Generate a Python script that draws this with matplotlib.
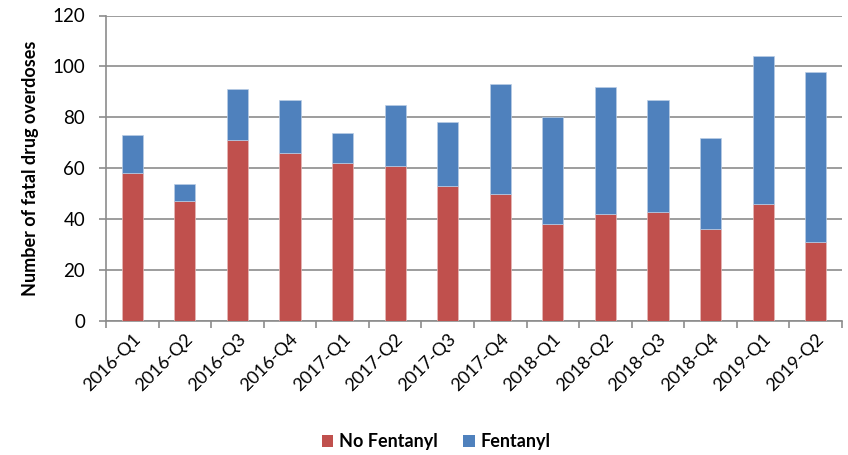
import matplotlib
matplotlib.use("Agg")
import matplotlib.pyplot as plt
import numpy as np
from matplotlib.patches import Patch

plt.rcParams['font.family'] = ['Lato', 'DejaVu Sans']

categories = ["2016-Q1", "2016-Q2", "2016-Q3", "2016-Q4", "2017-Q1", "2017-Q2", "2017-Q3",
              "2017-Q4", "2018-Q1", "2018-Q2", "2018-Q3", "2018-Q4", "2019-Q1", "2019-Q2"]
no_fentanyl = [58, 47, 71, 66, 62, 61, 53, 50, 38, 42, 43, 36, 46, 31]
totals = [73, 54, 91, 87, 74, 85, 78, 93, 80, 92, 87, 72, 104, 98]
fentanyl = [t - n for t, n in zip(totals, no_fentanyl)]
y_ticks = [0, 20, 40, 60, 80, 100, 120]

red = "#C0504D"
blue = "#4F81BD"
grid_c = "#8C8C8C"

fig = plt.figure(figsize=(8.48, 4.55), dpi=100)
ax = fig.add_axes([106/848, 1 - 321/455, (842-106)/848, (321-15.5)/455])

x = np.arange(len(categories))
ax.bar(x, no_fentanyl, width=0.4, color=red, edgecolor="#E6B9B8", linewidth=0.5, zorder=3)
ax.bar(x, fentanyl, bottom=no_fentanyl, width=0.4, color=blue, edgecolor="#B9CDE5", linewidth=0.5, zorder=3)

ax.set_xlim(-0.5, len(categories) - 0.5)
ax.set_ylim(0, 120)
ax.set_yticks(y_ticks)
ax.set_yticklabels([str(v) for v in y_ticks], fontsize=13.5)
ax.yaxis.grid(True, color=grid_c, linewidth=1.2, zorder=0)
ax.set_axisbelow(True)

ax.set_xticks(np.arange(len(categories) + 1) - 0.5, minor=False)
ax.set_xticklabels([])
ax.set_xticks(x, minor=True)
ax.set_xticklabels(categories, minor=True, rotation=45, ha="right", rotation_mode="anchor", fontsize=13)
ax.tick_params(axis="x", which="minor", length=0, pad=7)
ax.tick_params(axis="x", which="major", length=5, color=grid_c, width=1.2)
ax.tick_params(axis="y", length=5, color=grid_c, width=1.2, pad=10)

for s in ["top", "right"]:
    ax.spines[s].set_visible(False)
for s in ["left", "bottom"]:
    ax.spines[s].set_color(grid_c)
    ax.spines[s].set_linewidth(1.2)

ax.set_ylabel("Number of fatal drug overdoses", fontsize=13, fontweight="bold", labelpad=10)

handles = [Patch(facecolor=red, label="No Fentanyl"), Patch(facecolor=blue, label="Fentanyl")]
fig.legend(handles=handles, loc="center", bbox_to_anchor=(0.514, 1 - 442/455), ncol=2, frameon=False,
           prop={"weight": "bold", "size": 13}, handlelength=0.65, handleheight=0.65, columnspacing=1.4,
           handletextpad=0.3)

fig.savefig("out.png", dpi=100)
